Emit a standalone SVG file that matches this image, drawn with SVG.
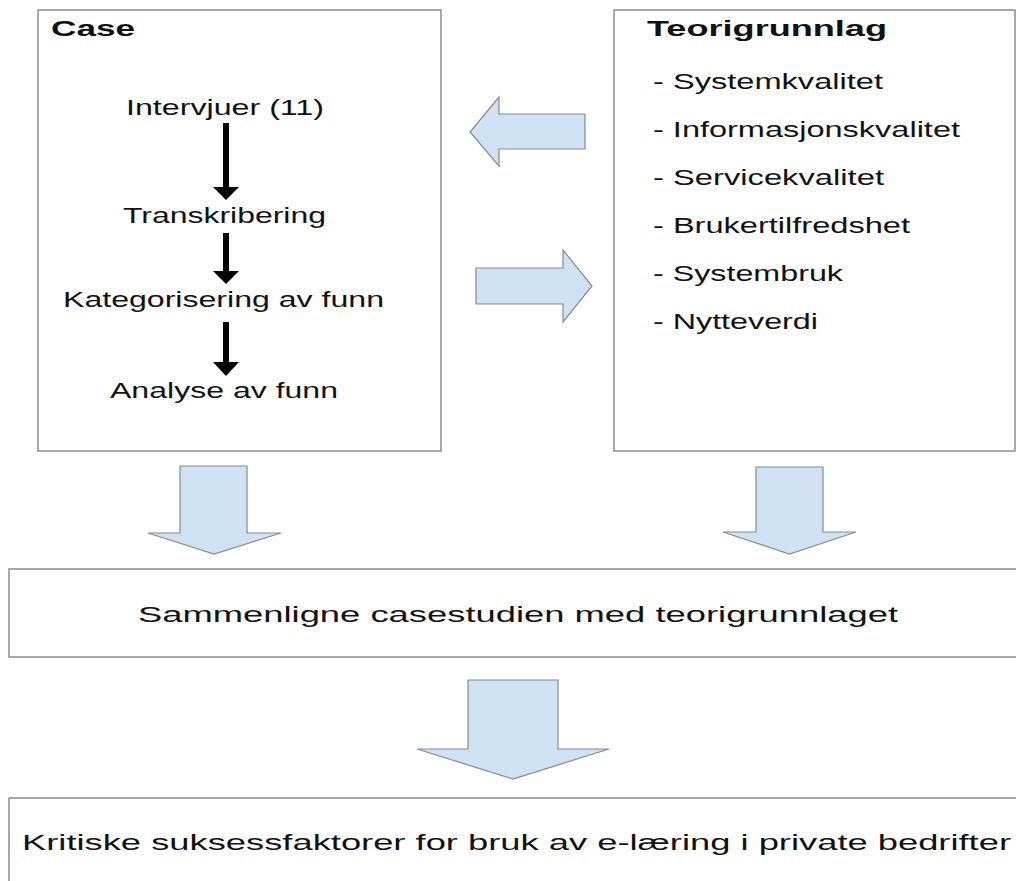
<svg xmlns="http://www.w3.org/2000/svg" width="1016" height="881" viewBox="0 0 1016 881">
  <style>
    .box { fill: #ffffff; stroke: #8c8c8c; stroke-width: 1.5; }
    .big { fill: #cfe2f3; stroke: #8a8a8a; stroke-width: 1.2; stroke-linejoin: miter; }
    .step { fill: #000000; }
    text { font-family: "Liberation Sans", Arial, sans-serif; fill: #111111; }
    .title { font-size: 22px; font-weight: bold; }
    .item { font-size: 22px; }
    .wide { font-size: 22px; }
  </style>

  <rect x="0" y="0" width="1016" height="881" fill="#ffffff"/>

  <!-- Case column -->
  <g id="case">
    <rect class="box" x="38" y="10" width="403" height="441"/>
    <text class="title" x="51" y="36" textLength="84" lengthAdjust="spacingAndGlyphs">Case</text>
    <text class="item" x="126" y="115" textLength="198" lengthAdjust="spacingAndGlyphs">Intervjuer (11)</text>
    <text class="item" x="123" y="223" textLength="203" lengthAdjust="spacingAndGlyphs">Transkribering</text>
    <text class="item" x="63" y="307" textLength="321" lengthAdjust="spacingAndGlyphs">Kategorisering av funn</text>
    <text class="item" x="110" y="398" textLength="228" lengthAdjust="spacingAndGlyphs">Analyse av funn</text>
  </g>

  <!-- Theory column -->
  <g id="teori">
    <rect class="box" x="614" y="10" width="401" height="441"/>
    <text class="title" x="647" y="36" textLength="240" lengthAdjust="spacingAndGlyphs">Teorigrunnlag</text>
    <text class="item" x="653" y="89" textLength="230" lengthAdjust="spacingAndGlyphs">- Systemkvalitet</text>
    <text class="item" x="653" y="137" textLength="307" lengthAdjust="spacingAndGlyphs">- Informasjonskvalitet</text>
    <text class="item" x="653" y="185" textLength="231" lengthAdjust="spacingAndGlyphs">- Servicekvalitet</text>
    <text class="item" x="653" y="233" textLength="257" lengthAdjust="spacingAndGlyphs">- Brukertilfredshet</text>
    <text class="item" x="653" y="281" textLength="190" lengthAdjust="spacingAndGlyphs">- Systembruk</text>
    <text class="item" x="653" y="329" textLength="165" lengthAdjust="spacingAndGlyphs">- Nytteverdi</text>
  </g>

  <!-- Comparison step -->
  <g id="sammenligne">
    <rect class="box" x="9" y="569" width="1030" height="88"/>
    <text class="wide" x="138" y="622" textLength="760" lengthAdjust="spacingAndGlyphs">Sammenligne casestudien med teorigrunnlaget</text>
  </g>

  <!-- Result -->
  <g id="kritiske">
    <rect class="box" x="9" y="798" width="1030" height="110"/>
    <text class="wide" x="22" y="850" textLength="989" lengthAdjust="spacingAndGlyphs">Kritiske suksessfaktorer for bruk av e-læring i private bedrifter</text>
  </g>

  <!-- Connectors -->
  <g id="connectors">
    <!-- steps inside the case column -->
    <rect class="step" x="223" y="123" width="6" height="65"/>
    <polygon class="step" points="213,187 239,187 226,200"/>
    <rect class="step" x="223" y="233" width="6" height="39"/>
    <polygon class="step" points="213,271 239,271 226,284"/>
    <rect class="step" x="223" y="322" width="6" height="41"/>
    <polygon class="step" points="213,362 239,362 226,376"/>

    <!-- between the two columns -->
    <polygon class="big" points="585,114 499,114 499,97 470,132 499,166 499,149 585,149"/>
    <polygon class="big" points="476,268 563,268 563,250 592,286 563,322 563,304 476,304"/>

    <!-- down into the comparison -->
    <polygon class="big" points="180,466 247,466 247,533 281,533 214,554 148,533 180,533"/>
    <polygon class="big" points="756,467 823,467 823,532 856,532 789.5,554 723,532 756,532"/>

    <!-- down into the result -->
    <polygon class="big" points="468,680 558,680 558,749 609,749 513,779 417,749 468,749"/>
  </g>
</svg>
